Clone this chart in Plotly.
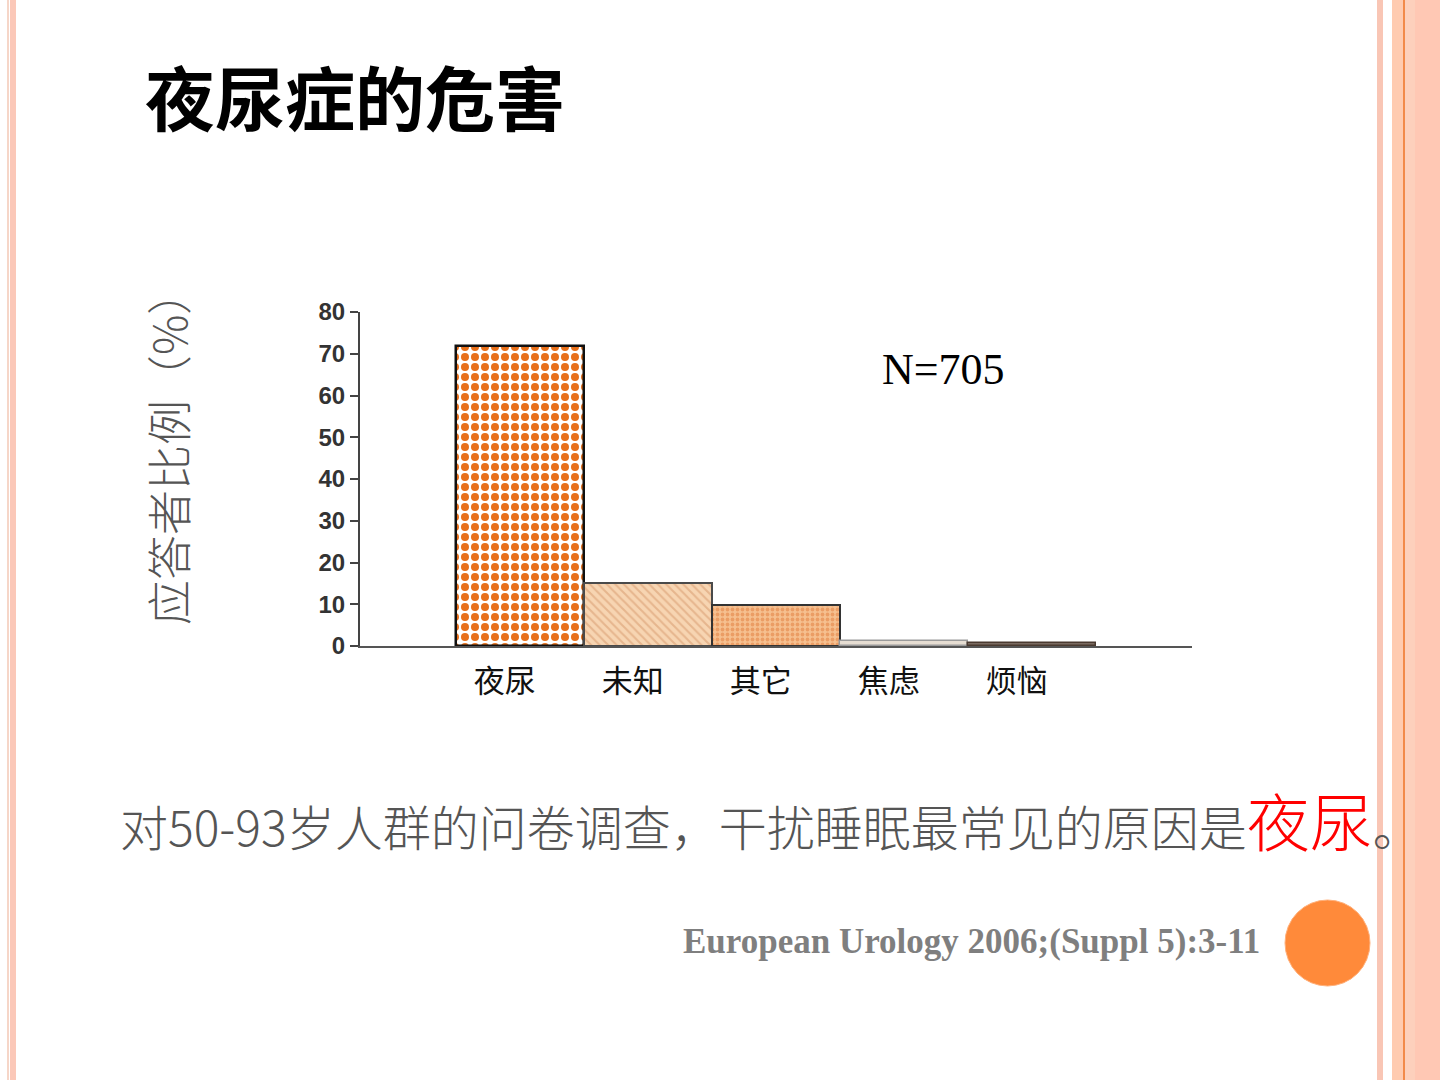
import plotly.graph_objects as go

# ---- data ----
categories = ["夜尿", "未知", "其它", "焦虑", "烦恼"]
values = [71.8, 15.0, 9.8, 1.2, 0.8]
positions = [1, 2, 3, 4, 5]
y_ticks = [0, 10, 20, 30, 40, 50, 60, 70, 80]

# ---- styles (per bar) ----
bar_bg = ["#FFFFFF", "#F7D5B2", "#F6C090", "#E6DDD2", "#7A6A60"]
bar_fg = ["#E8701A", "#E2AE84", "#E8955A", "#CFC4B8", "#3A2A20"]
bar_shape = [".", "\\", ".", "", "-"]
bar_size = [10, 6, 5, 6, 4]
bar_solid = [0.5, 0.35, 0.45, 0.2, 0.4]
bar_fgop = [1.0, 0.8, 0.8, 0.5, 0.8]
bar_line = ["#111111", "#4A4A4A", "#333333", "#9A9A9A", "#4A3A30"]
bar_lw = [2.5, 2, 2, 1.5, 1.5]

W, H = 1440, 1080


def px(x):
    return x / W


def py(y):
    return 1 - y / H


fig = go.Figure()

for i in range(len(values)):
    fig.add_trace(go.Bar(
        x=[positions[i]],
        y=[values[i]],
        width=1.0,
        marker=dict(
            color=bar_bg[i],
            line=dict(color=bar_line[i], width=bar_lw[i]),
            pattern=dict(
                shape=bar_shape[i],
                fgcolor=bar_fg[i],
                bgcolor=bar_bg[i],
                fgopacity=bar_fgop[i],
                size=bar_size[i],
                solidity=bar_solid[i],
                fillmode="overlay",
            ),
        ),
        hoverinfo="skip",
        showlegend=False,
    ))

fig.update_layout(
    width=W, height=H,
    margin=dict(l=0, r=0, t=0, b=0, autoexpand=False),
    paper_bgcolor="white",
    plot_bgcolor="white",
    bargap=0,
    barmode="overlay",
    xaxis=dict(
        domain=[px(360), px(1192)],
        range=[-0.25, 6.25],
        tickvals=[p - 0.12 for p in positions],
        ticktext=categories,
        tickfont=dict(family="Noto Sans CJK SC", size=31, color="#111111"),
        ticks="outside", ticklen=7, tickcolor="rgba(0,0,0,0)",
        showline=True, linecolor="#555555", linewidth=2,
        showgrid=False, zeroline=False, fixedrange=True,
    ),
    yaxis=dict(
        domain=[py(646), py(312)],
        range=[0, 80],
        tickvals=y_ticks,
        tickfont=dict(family="Liberation Sans", size=24, color="#333333", weight="bold"),
        ticks="outside", ticklen=8, tickwidth=2, tickcolor="#444444",
        showline=True, linecolor="#444444", linewidth=2,
        showgrid=False, zeroline=False, fixedrange=True,
    ),
)

annotations = [
    dict(text="<b>夜尿症的危害</b>", x=px(143), y=py(95), xanchor="left", yanchor="middle",
         font=dict(family="Noto Sans CJK SC", size=70, color="#000000")),
    dict(text="应答者比例（%）", x=px(168), y=py(448), textangle=-90,
         xanchor="center", yanchor="middle",
         font=dict(family="Noto Sans CJK SC", size=45, color="#555555", weight=300)),
    dict(text="N=705", x=px(943), y=py(369), xanchor="center", yanchor="middle",
         font=dict(family="Liberation Serif", size=44, color="#000000")),
    dict(text="对50-93岁人群的问卷调查，干扰睡眠最常见的原因是"
              "<span style='color:#FF0000;font-size:63px'>夜尿</span>。",
         x=px(118), y=py(818), xanchor="left", yanchor="middle",
         font=dict(family="Noto Sans CJK SC", size=48, color="#555555", weight=300)),
    dict(text="<b>European Urology 2006;(Suppl 5):3-11</b>", x=px(1262), y=py(941),
         xanchor="right", yanchor="middle",
         font=dict(family="Liberation Serif", size=35, color="#7F7F7F")),
]
for a in annotations:
    a.update(xref="paper", yref="paper", showarrow=False)
fig.update_layout(annotations=annotations)

shapes = []


def rect(x0, x1, color):
    shapes.append(dict(type="rect", xref="paper", yref="paper",
                       x0=px(x0), x1=px(x1), y0=0, y1=1,
                       fillcolor=color, line=dict(width=0), layer="below"))


# left border
rect(7, 9, "#F6D6C8")
rect(10, 16, "#FBC8B8")
# right border
rect(1377, 1383, "#F9C6B5")
rect(1392, 1403, "#FFCBB0")
rect(1403, 1405, "#F28A4A")
rect(1405, 1415, "#FDD0BC")
rect(1415, 1440, "#FFC8B4")

# orange circle
shapes.append(dict(type="circle", xref="paper", yref="paper",
                   x0=px(1285), x1=px(1370), y0=py(986), y1=py(900),
                   fillcolor="#FF8A3A", line=dict(color="#FFB07A", width=1)))
fig.update_layout(shapes=shapes)

fig.write_html("out.html")
